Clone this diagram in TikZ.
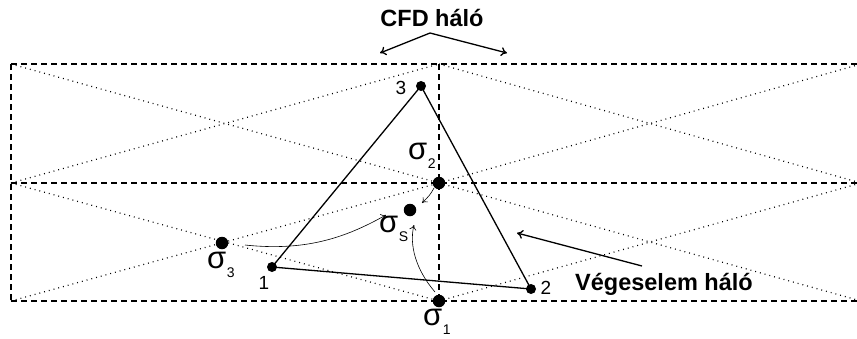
\documentclass[tikz,border=0pt]{standalone}
\usepackage{fontspec}
\setmainfont{Liberation Sans}
\usetikzlibrary{arrows.meta}
\newcommand{\sigl}[1]{{\fontsize{31}{31}\selectfont σ}\kern0.5pt\raisebox{-9pt}{\fontsize{14}{14}\selectfont #1}}
\tikzset{
  dashln/.style={line width=1.2pt, dash pattern=on 6pt off 4pt},
  dotln/.style={line width=1.2pt, dash pattern=on 0.9pt off 4pt},
  edge/.style={line width=1.3pt},
  nodedot/.style={circle, fill=black, inner sep=0pt, minimum size=10pt},
  sigdot/.style={circle, fill=black, inner sep=0pt, minimum size=12.5pt},
  numlab/.style={font=\fontsize{19}{19}\selectfont, inner sep=0pt},
  siglab/.style={inner sep=0pt, anchor=base west},
  biglab/.style={font=\fontsize{23.5}{23.5}\selectfont\bfseries, inner sep=0pt},
  thinarr/.style={line width=0.6pt, -{To[length=5pt,width=7pt]}},
  thickarr/.style={line width=1.3pt, -{To[length=6pt,width=9pt]}}
}
\begin{document}
\begin{tikzpicture}[x=1pt,y=-1pt]
\useasboundingbox (0,0) rectangle (857,338);
\begin{scope}
\clip (0,0) rectangle (857,338);
% grid corners
\coordinate (tl) at (11,64);  \coordinate (tm) at (439,64);  \coordinate (tr) at (861,64);
\coordinate (ml) at (11,183); \coordinate (mm) at (439,183); \coordinate (mr) at (861,183);
\coordinate (bl) at (11,301); \coordinate (bm) at (439,301); \coordinate (br) at (861,301);
% dotted diagonals
\draw[dotln] (tl) -- (mm) (ml) -- (tm) (tm) -- (mr) (mm) -- (tr);
\draw[dotln] (ml) -- (bm) (bl) -- (mm) (mm) -- (br) (bm) -- (mr);
% dashed grid
\draw[dashln] (tl) -- (tr) (ml) -- (mr) (bl) -- (br);
\draw[dashln] (tl) -- (bl) (tm) -- (bm);
\end{scope}
% triangle nodes
\node[nodedot] (n1) at (272,267) {};
\node[nodedot] (n2) at (531,289) {};
\node[nodedot] (n3) at (421,86) {};
\draw[edge] (n1.center) -- (n2.center) -- (n3.center) -- cycle;
\node[numlab] (l1) at (264,283) {1};
\node[numlab] (l2) at (546,288) {2};
\node[numlab] (l3) at (401,88) {3};
% sigma points
\node[sigdot] (s1) at (439,301) {};
\node[sigdot] (s2) at (439,183) {};
\node[sigdot] (s3) at (222,243) {};
\node[sigdot] (ss) at (410,210) {};
\node[siglab] (ls1) at (423,325) {\sigl{1}};
\node[siglab] (ls2) at (408,159) {\sigl{2}};
\node[siglab] (ls3) at (207,268) {\sigl{3}};
\node[siglab] (lss) at (379,232) {\sigl{S}};
% thin curved arrows
\coordinate (a3s) at (245,245);
\coordinate (a3e) at (386,215);
\draw[thinarr] (a3s) .. controls (310,252) and (350,235) .. (a3e);
\coordinate (a1s) at (435,292);
\coordinate (a1e) at (414,225);
\draw[thinarr] (a1s) .. controls (416,270) and (409,245) .. (a1e);
\coordinate (a2s) at (434,188);
\coordinate (a2e) at (422,203);
\draw[thinarr] (a2s) .. controls (430,195) .. (a2e);
% labels
\node[biglab] (cfd) at (432,18) {CFD háló};
\coordinate (cfdo) at (430,33);
\coordinate (cfdl) at (380,53);
\coordinate (cfdr) at (507,53);
\draw[thickarr] (cfdo) -- (cfdl);
\draw[thickarr] (cfdo) -- (cfdr);
\node[biglab] (fem) at (664,284) {Végeselem háló};
\coordinate (femo) at (642,266);
\coordinate (feme) at (517,233);
\draw[thickarr] (femo) -- (feme);
\end{tikzpicture}
\end{document}
